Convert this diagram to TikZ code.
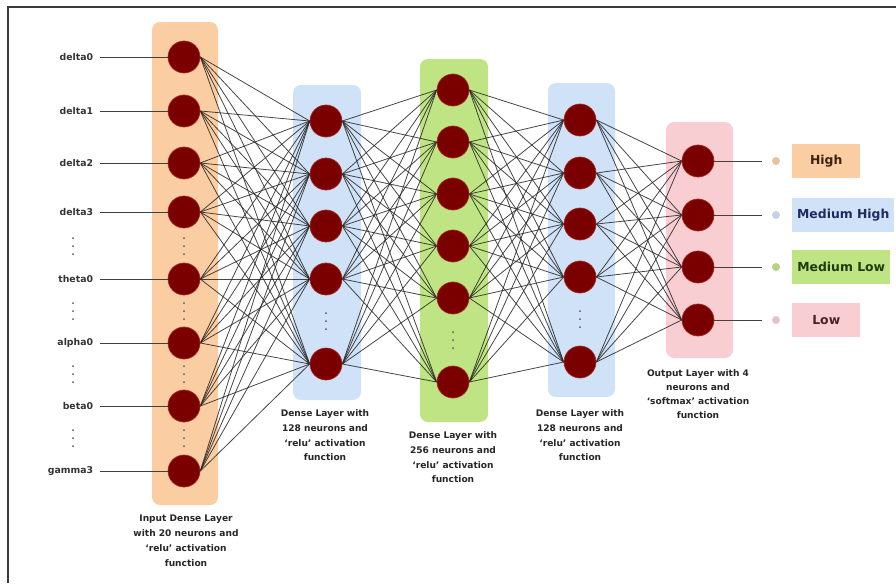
\documentclass[tikz,border=0pt]{standalone}
\usepackage{fontspec}
\setsansfont{DejaVu Sans}

\definecolor{nnnode}{HTML}{7A0000}
\definecolor{nnnodeedge}{HTML}{A82A20}
\definecolor{nninface}{HTML}{FBCDA2}
\definecolor{nndenseface}{HTML}{CFE2F7}
\definecolor{nnwideface}{HTML}{BFE483}
\definecolor{nnoutface}{HTML}{F9CED2}
\definecolor{nnweight}{HTML}{262626}
\definecolor{nnframe}{HTML}{3A3A3A}
\definecolor{nnhightext}{HTML}{3A2410}
\definecolor{nnmhtext}{HTML}{1C2C5C}
\definecolor{nnmltext}{HTML}{1E3A0C}
\definecolor{nnlowtext}{HTML}{4A2020}

\pgfdeclarelayer{panels}
\pgfdeclarelayer{weights}
\pgfsetlayers{panels,weights,main}

\newcommand{\nndots}[2]{%
  \foreach \k in {-8,0,8}{\fill[black!65] (#1,#2+\k) circle [radius=1];}%
}

\tikzset{
  neuron/.style={circle, fill=nnnode, draw=nnnodeedge, line width=0.5pt,
    minimum size=24pt, inner sep=0pt},
  panel/.style={rounded corners=6pt},
  weight/.style={draw=nnweight, line width=0.6pt, draw opacity=0.85},
  feedline/.style={draw=black!75, line width=0.7pt},
  inlabel/.style={anchor=east, inner xsep=5pt, inner ysep=0pt,
    font=\sffamily\bfseries\fontsize{7}{9}\selectfont, text=black!80},
  caption/.style={anchor=north, align=center, inner sep=0pt,
    font=\sffamily\bfseries\fontsize{6.8}{11.2}\selectfont, text=black!85},
  classbox/.style={anchor=west, minimum height=25.5pt, inner sep=0pt,
    font=\sffamily\bfseries\fontsize{9.3}{11}\selectfont},
  classdot/.style={circle, minimum size=6pt, inner sep=0pt}
}

\begin{document}
\begin{tikzpicture}[x=0.75pt, y=-0.75pt]

  \useasboundingbox (0,0) rectangle (896,583);

  % --------------------------------------------------------------------
  % frame
  % --------------------------------------------------------------------

  \draw[draw=nnframe, line width=1.5pt] (8,583) -- (8,7) -- (896,7);

  % --------------------------------------------------------------------
  % layer panels
  % --------------------------------------------------------------------

  \begin{pgfonlayer}{panels}
    \fill[panel, nninface]    (152,22)  rectangle (218,505);
    \fill[panel, nndenseface] (293,85)  rectangle (361,400);
    \fill[panel, nnwideface]  (420,59)  rectangle (488,422);
    \fill[panel, nndenseface] (548,83)  rectangle (615,397);
    \fill[panel, nnoutface]   (666,122) rectangle (733,358);
  \end{pgfonlayer}

  % --------------------------------------------------------------------
  % neurons
  % --------------------------------------------------------------------

  \foreach \y/\name [count=\i] in {57/delta0, 111/delta1, 163/delta2,
      212/delta3, 279/theta0, 343/alpha0, 406/beta0, 471/gamma3}{
    \node[neuron] (in\i) at (184,\y) {};
    \node[inlabel] (feat\i) at (100,\y) {\name};
    \draw[feedline] (feat\i.east) -- (in\i.west);
  }

  \foreach \y [count=\i] in {121,174,226,279,364}
    \node[neuron] (dA\i) at (326,\y) {};

  \foreach \y [count=\i] in {90,142,194,246,298,382}
    \node[neuron] (wd\i) at (453,\y) {};

  \foreach \y [count=\i] in {120,173,224,277,362}
    \node[neuron] (dB\i) at (580,\y) {};

  \foreach \y [count=\i] in {161,215,267,320}
    \node[neuron] (out\i) at (698,\y) {};

  % --------------------------------------------------------------------
  % weights
  % --------------------------------------------------------------------

  \begin{pgfonlayer}{weights}
    \foreach \i in {1,...,8}
      \foreach \j in {1,...,5}
        \draw[weight] (in\i.east) -- (dA\j.west);
    \foreach \i in {1,...,5}
      \foreach \j in {1,...,6}
        \draw[weight] (dA\i.east) -- (wd\j.west);
    \foreach \i in {1,...,6}
      \foreach \j in {1,...,5}
        \draw[weight] (wd\i.east) -- (dB\j.west);
    \foreach \i in {1,...,5}
      \foreach \j in {1,...,4}
        \draw[weight] (dB\i.east) -- (out\j.west);
  \end{pgfonlayer}

  % --------------------------------------------------------------------
  % skipped neurons
  % --------------------------------------------------------------------

  \foreach \y in {246,311,374,438}{
    \nndots{73}{\y}
    \nndots{184}{\y}
  }
  \nndots{326}{321}
  \nndots{453}{340}
  \nndots{580}{319}

  % --------------------------------------------------------------------
  % output classes
  % --------------------------------------------------------------------

  \foreach \face/\ink/\boxw/\txt [count=\i] in {
    nninface/nnhightext/51pt/High,
    nndenseface/nnmhtext/76.5pt/Medium High,
    nnwideface/nnmltext/73.5pt/Medium Low,
    nnoutface/nnlowtext/51pt/Low
  }{
    \coordinate (cls\i) at (out\i -| 762,0);
    \draw[feedline] (out\i.east) -- (cls\i);
    \node[classdot, fill=\face!85!gray] (mark\i) at (out\i -| 776,0) {};
    \node[classbox, fill=\face, text=\ink, minimum width=\boxw] (class\i)
      at (out\i -| 792,0) {\txt};
  }

  % --------------------------------------------------------------------
  % captions
  % --------------------------------------------------------------------

  \node[caption] (capin) at (186,515)
    {Input Dense Layer\\with 20 neurons and\\`relu' activation\\function};
  \node[caption] (capdA) at (325,409)
    {Dense Layer with\\128 neurons and\\`relu' activation\\function};
  \node[caption] (capwd) at (453,431)
    {Dense Layer with\\256 neurons and\\`relu' activation\\function};
  \node[caption] (capdB) at (580,409)
    {Dense Layer with\\128 neurons and\\`relu' activation\\function};
  \node[caption, font=\sffamily\bfseries\fontsize{6.8}{10.5}\selectfont]
    (capout) at (698,369)
    {Output Layer with 4\\neurons and\\`softmax' activation\\function};

\end{tikzpicture}
\end{document}
